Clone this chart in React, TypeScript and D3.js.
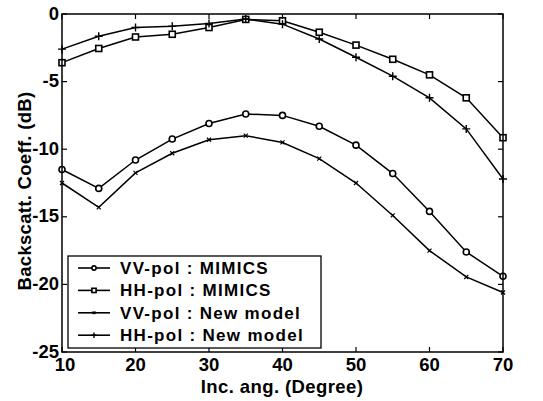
import React from "react";
import * as d3 from "d3";

const angles = [10, 15, 20, 25, 30, 35, 40, 45, 50, 55, 60, 65, 70];
const vvMimics = [-11.5, -12.9, -10.8, -9.25, -8.1, -7.4, -7.5, -8.3, -9.7, -11.8, -14.6, -17.6, -19.4];
const hhMimics = [-3.6, -2.55, -1.7, -1.5, -1.0, -0.4, -0.5, -1.35, -2.3, -3.35, -4.5, -6.2, -9.15];
const vvNew = [-12.5, -14.3, -11.75, -10.3, -9.3, -9.0, -9.5, -10.7, -12.5, -14.9, -17.5, -19.45, -20.6];
const hhNew = [-2.6, -1.65, -1.0, -0.9, -0.7, -0.37, -0.75, -1.85, -3.2, -4.6, -6.2, -8.5, -12.2];
const xTicks = [10, 20, 30, 40, 50, 60, 70];
const yTicks = [0, -5, -10, -15, -20, -25];
const legendLabels = ["VV-pol : MIMICS", "HH-pol : MIMICS", "VV-pol : New model", "HH-pol : New model"];
const markerKinds = ["circle", "square", "x", "plus"];

const W = 543, H = 401;
const L = 62, R = 503, T = 14, B = 352;
const FONT = "'Liberation Sans', Arial, sans-serif";

function Marker({ kind, x, y, s = 1 }: { kind: string; x: number; y: number; s?: number }) {
  if (kind === "circle") return <circle cx={x} cy={y} r={3 * s} fill="white" stroke="black" strokeWidth={1.6} />;
  if (kind === "square")
    return <rect x={x - 3 * s} y={y - 3 * s} width={6 * s} height={6 * s} fill="white" stroke="black" strokeWidth={1.6} />;
  if (kind === "plus")
    return <path d={`M${x - 4 * s},${y}H${x + 4 * s}M${x},${y - 4 * s}V${y + 4 * s}`} stroke="black" strokeWidth={1.4} />;
  return (
    <path
      d={`M${x - 2 * s},${y - 2 * s}L${x + 2 * s},${y + 2 * s}M${x - 2 * s},${y + 2 * s}L${x + 2 * s},${y - 2 * s}`}
      stroke="black"
      strokeWidth={1.2}
    />
  );
}

export default function App() {
  const x = d3.scaleLinear().domain([10, 70]).range([L, R]);
  const y = d3.scaleLinear().domain([-25, 0]).range([B, T]);
  const series = [vvMimics, hhMimics, vvNew, hhNew];
  const line = d3
    .line<number>()
    .x((_, i) => x(angles[i]))
    .y((d) => y(d));
  const tl = 5;
  return (
    <svg width={W} height={H} style={{ position: "absolute", left: 0, top: 0, background: "white" }} fontFamily={FONT}>
      <rect x={0} y={0} width={W} height={H} fill="white" />
      {series.map((s, si) => (
        <g key={si}>
          <path d={line(s) || ""} fill="none" stroke="black" strokeWidth={1.5} />
          {s.map((v, i) => (
            <Marker key={i} kind={markerKinds[si]} x={x(angles[i])} y={y(v)} />
          ))}
        </g>
      ))}
      <rect x={L} y={T} width={R - L} height={B - T} fill="none" stroke="black" strokeWidth={1.5} />
      {xTicks.map((t) => (
        <g key={t}>
          <line x1={x(t)} x2={x(t)} y1={B} y2={B - tl} stroke="black" strokeWidth={1.2} />
          <line x1={x(t)} x2={x(t)} y1={T} y2={T + tl} stroke="black" strokeWidth={1.2} />
          <text x={x(t) + (t === 10 ? 3 : 0)} y={371} textAnchor="middle" fontSize={18.5} fontWeight="bold">
            {t}
          </text>
        </g>
      ))}
      {yTicks.map((t) => (
        <g key={t}>
          <line x1={L} x2={L + tl} y1={y(t)} y2={y(t)} stroke="black" strokeWidth={1.2} />
          <line x1={R} x2={R - tl} y1={y(t)} y2={y(t)} stroke="black" strokeWidth={1.2} />
          <text x={L - 3} y={y(t) + 5.5} textAnchor="end" fontSize={18.5} fontWeight="bold">
            {t}
          </text>
        </g>
      ))}
      <text x={282} y={393} textAnchor="middle" fontSize={18.5} fontWeight="bold" letterSpacing={0.4}>
        Inc. ang. (Degree)
      </text>
      <text
        transform={`translate(31,191) rotate(-90)`}
        textAnchor="middle"
        fontSize={18.5}
        fontWeight="bold"
        letterSpacing={0.3}
      >
        Backscatt. Coeff. (dB)
      </text>
      <g>
        <rect x={68} y={256} width={253} height={92} fill="white" stroke="black" strokeWidth={1.3} />
        {legendLabels.map((lab, i) => {
          const ly = 268 + i * 22.4;
          return (
            <g key={i}>
              <line x1={78} x2={110} y1={ly} y2={ly} stroke="black" strokeWidth={1.6} />
              <Marker kind={markerKinds[i]} x={94} y={ly} s={0.7} />
              <text x={120} y={ly + 6} fontSize={17} fontWeight="bold" letterSpacing={1.3}>
                {lab}
              </text>
            </g>
          );
        })}
      </g>
    </svg>
  );
}
